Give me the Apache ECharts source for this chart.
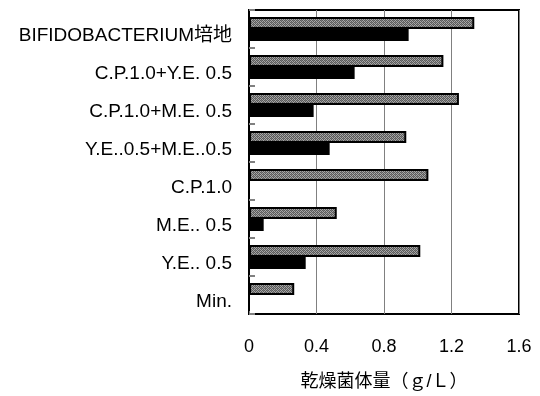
<!DOCTYPE html>
<html>
<head>
<meta charset="utf-8">
<script src="https://cdn.jsdelivr.net/npm/echarts@6/dist/echarts.min.js"></script>
<style>
  html, body { margin: 0; padding: 0; background: #fff; }
  #chart { width: 540px; height: 396px; }
</style>
</head>
<body>
<div id="chart"></div>
<script>
// Media conditions, listed top to bottom
const categories = [
  'BIFIDOBACTERIUM培地',
  'C.P.1.0+Y.E. 0.5',
  'C.P.1.0+M.E. 0.5',
  'Y.E..0.5+M.E..0.5',
  'C.P.1.0',
  'M.E.. 0.5',
  'Y.E.. 0.5',
  'Min.'
];
// Dry cell weight (g/L), hatched series and solid series
const hatchedValues = [1.335, 1.152, 1.244, 0.932, 1.063, 0.52, 1.015, 0.268];
const solidValues   = [0.946, 0.626, 0.383, 0.478, 0,     0.087, 0.336, 0];
const xTicks = [0, 0.4, 0.8, 1.2, 1.6];
const xName = '乾燥菌体量（ｇ/Ｌ）';

// Fine grey dither used as the fill of the hatched bars
function makeDither() {
  const c = document.createElement('canvas');
  c.width = 4; c.height = 4;
  const ctx = c.getContext('2d');
  ctx.fillStyle = '#a8a8a8';
  ctx.fillRect(0, 0, 4, 4);
  ctx.fillStyle = '#5a5a5a';
  for (let y = 0; y < 4; y++) {
    for (let x = 0; x < 4; x++) {
      if ((x + y) % 2 === 0) ctx.fillRect(x, y, 1, 1);
    }
  }
  ctx.fillStyle = '#7c7c7c';
  ctx.fillRect(1, 0, 1, 1);
  ctx.fillRect(3, 2, 1, 1);
  return c;
}

const font = "'Liberation Sans', Arial, 'Noto Sans CJK JP', sans-serif";
const chart = echarts.init(document.getElementById('chart'), null, { renderer: 'canvas' });

chart.setOption({
  animation: false,
  backgroundColor: '#fff',
  grid: {
    left: 249, right: 21, top: 10, bottom: 78,
    show: true, borderColor: '#000', borderWidth: 2, backgroundColor: 'transparent'
  },
  xAxis: {
    type: 'value',
    min: xTicks[0],
    max: xTicks[xTicks.length - 1],
    interval: 0.4,
    name: xName,
    nameLocation: 'middle',
    nameGap: 59,
    nameTextStyle: { fontSize: 18, color: '#000', fontFamily: font },
    axisLine: { show: true, lineStyle: { color: '#000', width: 2 } },
    axisTick: { show: true, inside: true, length: 3, lineStyle: { color: '#808080' } },
    splitLine: { show: true, lineStyle: { color: '#808080', width: 1 } },
    axisLabel: {
      fontSize: 18, color: '#000', fontFamily: font, margin: 24,
      formatter: v => String(parseFloat(v.toFixed(1)))
    }
  },
  yAxis: {
    type: 'category',
    inverse: true,
    data: categories,
    axisLine: { show: true, lineStyle: { color: '#000', width: 2 } },
    axisTick: { show: true, inside: true, length: 6, lineStyle: { color: '#808080', width: 2 } },
    axisLabel: {
      fontSize: 19, color: '#000', fontFamily: font, margin: 17,
      verticalAlign: 'top', lineHeight: 13
    },
    splitLine: { show: false }
  },
  series: [
    {
      type: 'bar',
      data: hatchedValues,
      barWidth: 12,
      barGap: '0%',
      itemStyle: {
        color: { image: makeDither(), repeat: 'repeat' },
        borderColor: '#000',
        borderWidth: 2
      }
    },
    {
      type: 'bar',
      data: solidValues,
      barWidth: 12,
      barGap: '0%',
      itemStyle: { color: '#000' }
    }
  ]
});
</script>
</body>
</html>
